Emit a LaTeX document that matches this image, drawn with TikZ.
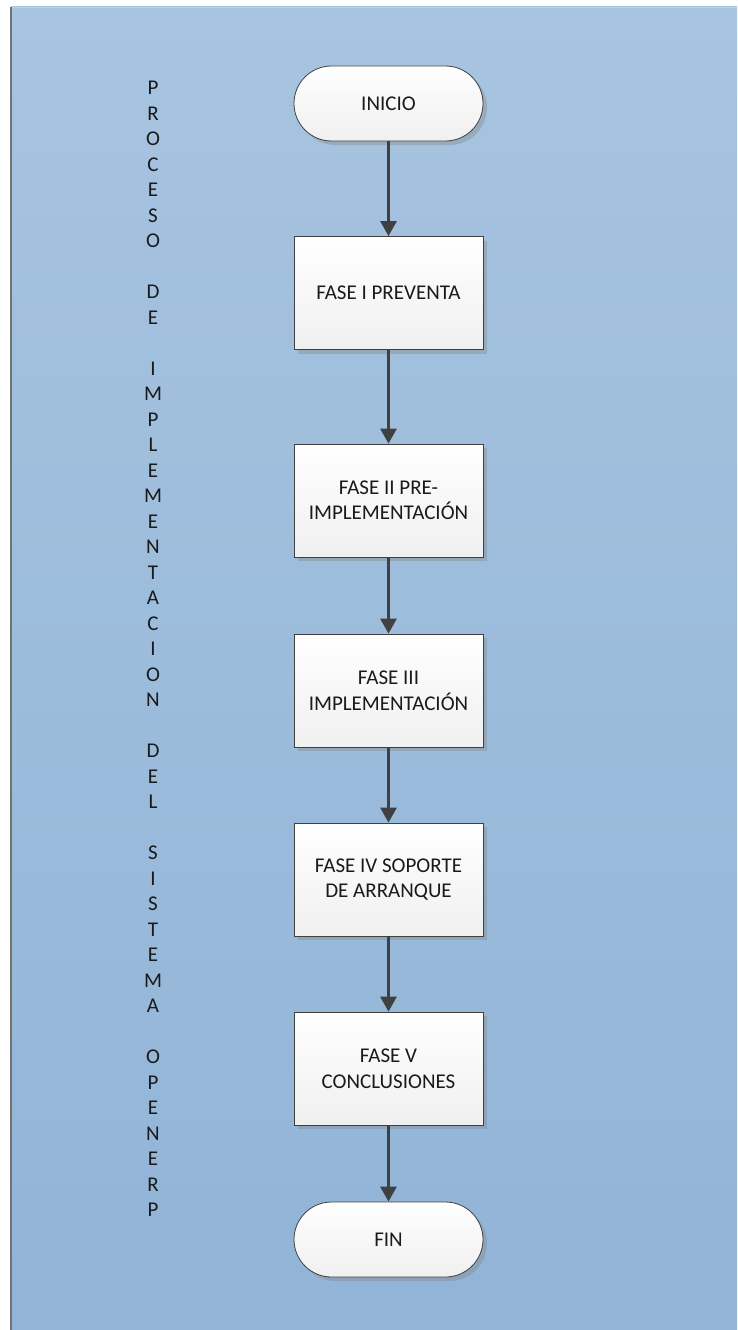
\documentclass[tikz,border=0pt]{standalone}
\usepackage{fontspec}
\setmainfont{Carlito}
\usetikzlibrary{arrows.meta,shadows}
\definecolor{panelTop}{HTML}{A7C4E0}
\definecolor{panelBot}{HTML}{91B4D7}
\definecolor{edge}{HTML}{404040}
\definecolor{ink}{HTML}{1A1A1A}
\tikzset{
  stage/.style={draw=edge, line width=0.8pt, minimum width=189pt, minimum height=113pt,
    top color=white, bottom color=gray!12, align=center, text=ink,
    font=\fontsize{21}{25.5}\selectfont,
    drop shadow={shadow xshift=4pt, shadow yshift=-4pt, fill=gray, opacity=0.35}},
  terminal/.style={stage, minimum height=75pt, rounded corners=37.5pt},
  flow/.style={draw=edge, line width=2.8pt, -{Triangle[width=16pt,length=15pt]}},
  sidetitle/.style={inner sep=0pt, align=center, text=ink, font=\fontsize{21}{25.5}\selectfont}
}
\begin{document}
\begin{tikzpicture}[x=1pt,y=-1pt]
  \useasboundingbox (0,0) rectangle (737,1330);
  % background panel
  \shade[top color=panelTop, bottom color=panelBot] (11,7) rectangle (737,1330);
  \draw[line width=0.8pt, color=black!20] (11,7) -- (737,7);
  \draw[line width=1.5pt, color=black!55] (11,7) -- (11,1330);

  % vertical title
  \node[sidetitle] (title) at (153,649) {P\\R\\O\\C\\E\\S\\O\\[25.5pt]D\\E\\[25.5pt]I\\M\\P\\L\\E\\M\\E\\N\\T\\A\\C\\I\\O\\N\\[25.5pt]D\\E\\L\\[25.5pt]S\\I\\S\\T\\E\\M\\A\\[25.5pt]O\\P\\E\\N\\E\\R\\P};

  % flow chart
  \node[terminal] (inicio) at (388.5,103.5) {INICIO};
  \node[stage] (f1) at (388.5,293) {FASE I PREVENTA};
  \node[stage] (f2) at (388.5,500.5) {FASE II PRE-\\IMPLEMENTACIÓN};
  \node[stage] (f3) at (388.5,690.5) {FASE III\\IMPLEMENTACIÓN};
  \node[stage] (f4) at (388.5,879.5) {FASE IV SOPORTE\\DE ARRANQUE};
  \node[stage] (f5) at (388.5,1068.5) {FASE V\\CONCLUSIONES};
  \node[terminal] (fin) at (388.5,1239.5) {FIN};

  \draw[flow] (inicio) -- (f1);
  \draw[flow] (f1) -- (f2);
  \draw[flow] (f2) -- (f3);
  \draw[flow] (f3) -- (f4);
  \draw[flow] (f4) -- (f5);
  \draw[flow] (f5) -- (fin);
\end{tikzpicture}
\end{document}
